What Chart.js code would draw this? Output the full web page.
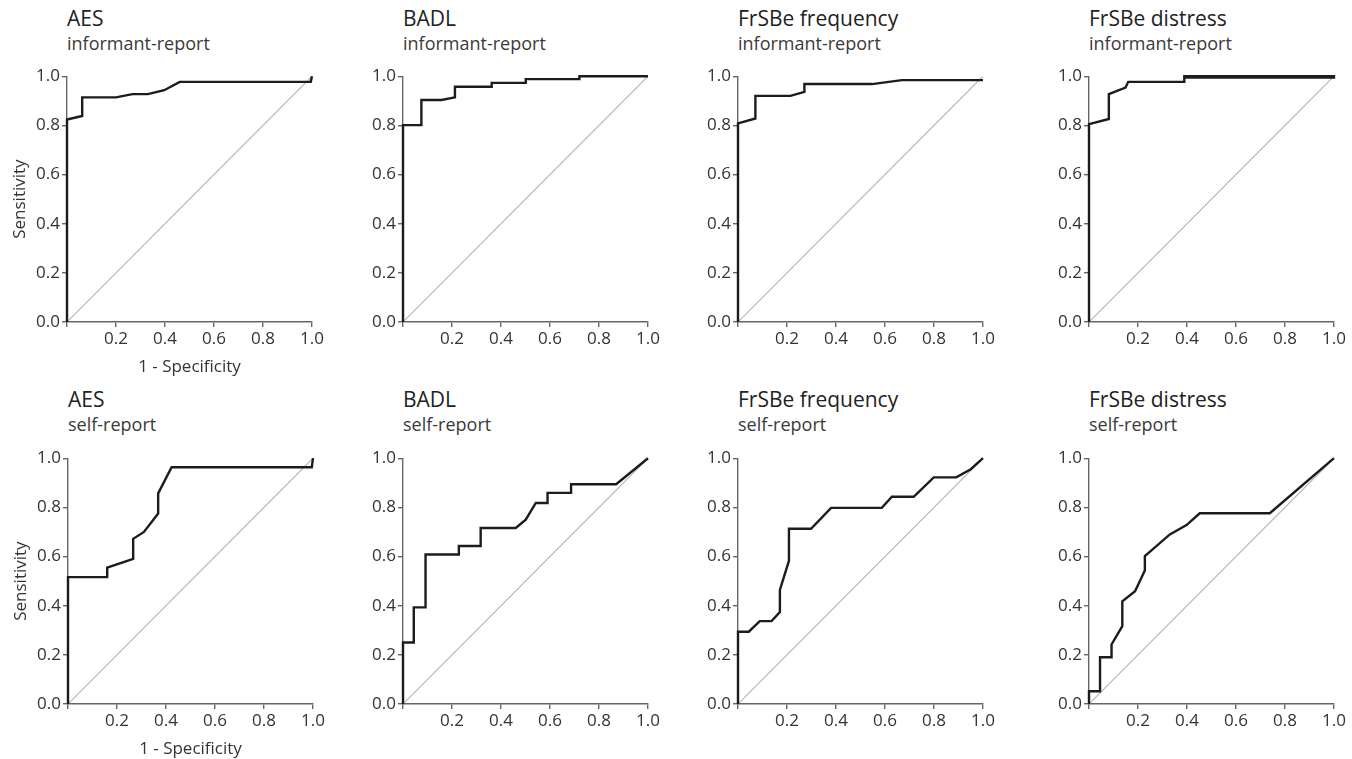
<!DOCTYPE html>
<html>
<head>
<meta charset="utf-8">
<script src="https://cdn.jsdelivr.net/npm/chart.js@4/dist/chart.umd.min.js"></script>
<style>
    body { margin: 0; background: #fff; overflow: hidden; }
    #page { position: relative; width: 1352px; height: 759px; }
    canvas { position: absolute; }
    .ttl { position: absolute; font-family: 'Open Sans', sans-serif; line-height: 1; white-space: nowrap; }
    .main { font-size: 21px; color: #222; }
    .sub { font-size: 18px; color: #3a3a3a; }
</style>
</head>
<body>
<div id="page"></div>
<script>
// ROC curves (x = 1 - specificity, y = sensitivity)
const panelTitles = ['AES', 'BADL', 'FrSBe frequency', 'FrSBe distress', 'AES', 'BADL', 'FrSBe frequency', 'FrSBe distress'];
const panelSubtitles = ['informant-report', 'informant-report', 'informant-report', 'informant-report',
    'self-report', 'self-report', 'self-report', 'self-report'];

const aesInformantX = [0, 0, 0.062, 0.062, 0.2, 0.267, 0.33, 0.397, 0.46, 0.995, 1.0];
const aesInformantY = [0, 0.824, 0.838, 0.914, 0.914, 0.927, 0.927, 0.943, 0.977, 0.977, 1.0];

const badlInformantX = [0, 0, 0.075, 0.075, 0.157, 0.212, 0.212, 0.362, 0.362, 0.501, 0.501, 0.72, 0.72, 1.0];
const badlInformantY = [0, 0.801, 0.801, 0.903, 0.903, 0.914, 0.957, 0.957, 0.973, 0.973, 0.988, 0.988, 1.0, 1.0];

const freqInformantX = [0, 0, 0.071, 0.071, 0.214, 0.271, 0.271, 0.547, 0.669, 1.0];
const freqInformantY = [0, 0.808, 0.828, 0.92, 0.92, 0.936, 0.968, 0.968, 0.984, 0.984];

const distressInformantX = [0, 0, 0.081, 0.081, 0.149, 0.16, 0.389, 0.389, 1.0, 1.0, 0.389];
const distressInformantY = [0, 0.805, 0.826, 0.927, 0.954, 0.977, 0.977, 1.0, 1.0, 0.994, 0.994];

const aesSelfX = [0, 0, 0.16, 0.16, 0.266, 0.266, 0.31, 0.368, 0.368, 0.423, 0.995, 1.0];
const aesSelfY = [0, 0.516, 0.516, 0.555, 0.59, 0.672, 0.7, 0.775, 0.857, 0.963, 0.963, 1.0];

const badlSelfX = [0, 0, 0.044, 0.044, 0.092, 0.092, 0.228, 0.228, 0.317, 0.317, 0.46, 0.501, 0.542, 0.59, 0.59, 0.686, 0.686, 0.87, 1.0];
const badlSelfY = [0, 0.25, 0.25, 0.393, 0.393, 0.608, 0.608, 0.643, 0.643, 0.716, 0.716, 0.75, 0.818, 0.818, 0.859, 0.859, 0.894, 0.894, 1.0];

const freqSelfX = [0, 0, 0.044, 0.089, 0.137, 0.171, 0.171, 0.208, 0.208, 0.298, 0.38, 0.587, 0.628, 0.717, 0.799, 0.891, 0.95, 1.0];
const freqSelfY = [0, 0.294, 0.294, 0.337, 0.337, 0.374, 0.464, 0.583, 0.713, 0.713, 0.798, 0.798, 0.843, 0.843, 0.922, 0.922, 0.955, 1.0];

const distressSelfX = [0, 0, 0.045, 0.045, 0.092, 0.092, 0.136, 0.136, 0.188, 0.228, 0.228, 0.255, 0.33, 0.398, 0.452, 0.738, 1.0];
const distressSelfY = [0, 0.052, 0.052, 0.19, 0.19, 0.242, 0.317, 0.418, 0.459, 0.543, 0.602, 0.625, 0.69, 0.728, 0.776, 0.776, 1.0];

const chanceX = [0, 1];
const chanceY = [0, 1];

const xAxisLabel = '1 - Specificity';
const yAxisLabel = 'Sensitivity';

const curvesX = [aesInformantX, badlInformantX, freqInformantX, distressInformantX, aesSelfX, badlSelfX, freqSelfX, distressSelfX];
const curvesY = [aesInformantY, badlInformantY, freqInformantY, distressInformantY, aesSelfY, badlSelfY, freqSelfY, distressSelfY];

// layout: where each plot's y axis sits on the page
const axisLeft = [[67, 403, 738, 1089], [68, 403, 738, 1089]];
const plotTop = [76, 458];

Chart.defaults.font.family = "'Open Sans', sans-serif";
Chart.defaults.color = '#333';

function toPoints(xs, ys) {
    return xs.map((x, i) => ({ x: x, y: ys[i] }));
}

function addTitle(text, cls, left, top) {
    const div = document.createElement('div');
    div.className = 'ttl ' + cls;
    div.textContent = text;
    div.style.left = left + 'px';
    div.style.top = top + 'px';
    document.getElementById('page').appendChild(div);
}

function axisStyle() {
    return {
        type: 'linear',
        min: 0,
        max: 1,
        border: { display: true, color: '#666', width: 1.4 },
        grid: { drawOnChartArea: false, drawTicks: true, tickLength: 5, color: '#666', lineWidth: 1.4 },
        ticks: {
            stepSize: 0.2,
            padding: 2,
            font: { size: 17 },
            color: '#333'
        }
    };
}

function drawPanel(i) {
    const row = Math.floor(i / 4);
    const col = i % 4;
    const left = axisLeft[row][col];
    const top = plotTop[row];

    addTitle(panelTitles[i], 'main', left, top - 68 - row);
    addTitle(panelSubtitles[i], 'sub', left, top - 42 - row);

    // 12px above the plot leaves room for the top tick label
    const canvas = document.createElement('canvas');
    canvas.width = 320;
    canvas.height = 316;
    canvas.style.left = (left - 60) + 'px';
    canvas.style.top = (top - 12) + 'px';
    document.getElementById('page').appendChild(canvas);

    const xAxis = axisStyle();
    xAxis.ticks.callback = (v) => v === 0 ? '' : v.toFixed(1);
    xAxis.afterFit = (scale) => { scale.height = 58; };
    xAxis.title = {
        display: col === 0,
        text: xAxisLabel,
        font: { size: 17 },
        color: '#333',
        padding: { top: 0, bottom: 3 }
    };

    const yAxis = axisStyle();
    yAxis.ticks.callback = (v) => v.toFixed(1);
    yAxis.afterFit = (scale) => { scale.width = 60; };
    yAxis.title = {
        display: col === 0,
        text: yAxisLabel,
        font: { size: 17 },
        color: '#333',
        padding: { top: 3, bottom: 0 }
    };

    new Chart(canvas, {
        type: 'line',
        data: {
            datasets: [{
                data: toPoints(curvesX[i], curvesY[i]),
                borderColor: '#1c1c1c',
                borderWidth: 2.4,
                pointRadius: 0,
                tension: 0,
                clip: false
            }, {
                data: toPoints(chanceX, chanceY),
                borderColor: '#b4b4b4',
                borderWidth: 1.1,
                pointRadius: 0,
                tension: 0
            }]
        },
        options: {
            responsive: false,
            animation: false,
            layout: { padding: { top: 12, right: 15, left: 0, bottom: 0 } },
            plugins: {
                legend: { display: false },
                tooltip: { enabled: false }
            },
            scales: { x: xAxis, y: yAxis }
        }
    });
}

for (let i = 0; i < 8; i++) {
    drawPanel(i);
}
</script>
</body>
</html>
